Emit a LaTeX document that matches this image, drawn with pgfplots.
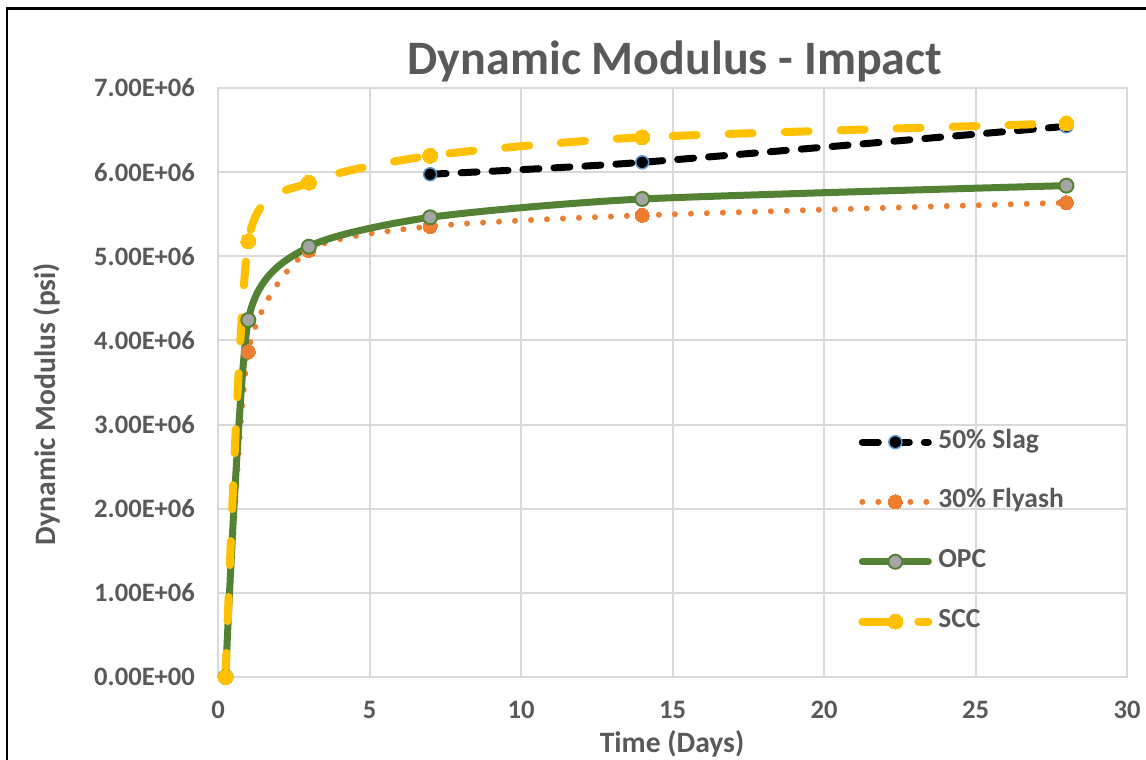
\documentclass[border=0pt]{standalone}
\usepackage{pgfplots}
\pgfplotsset{compat=1.18}
\usepackage{fontspec}
\setmainfont{Carlito}

\definecolor{txtgray}{HTML}{595959}
\definecolor{gridgray}{HTML}{D9D9D9}
\definecolor{slagblue}{HTML}{5B9BD5}
\definecolor{flyorange}{HTML}{ED7D31}
\definecolor{opcgreen}{HTML}{548235}
\definecolor{opcgray}{HTML}{A5A5A5}
\definecolor{sccyellow}{HTML}{FFC000}

\begin{document}
\begin{tikzpicture}[x=1pt,y=1pt]
\path[use as bounding box] (0,0) rectangle (573,380);
% chart frame
\draw[line width=1.3pt] (3.5,0) -- (3.5,375.6) -- (573,375.6);

\begin{axis}[
  at={(109pt,41.5pt)}, anchor=south west,
  scale only axis, width=454.5pt, height=294.5pt,
  xmin=0, xmax=30, ymin=0, ymax=7000000,
  xtick={0,5,10,15,20,25,30},
  ytick={0,1000000,2000000,3000000,4000000,5000000,6000000,7000000},
  yticklabels={0.00E+00,1.00E+06,2.00E+06,3.00E+06,4.00E+06,5.00E+06,6.00E+06,7.00E+06},
  scaled y ticks=false,
  /pgf/number format/assume math mode=true,
  grid=major,
  major grid style={gridgray, line width=1pt},
  axis line style={gridgray, line width=1pt},
  tick style={draw=none},
  ticklabel style={font=\fontsize{13.3}{16}\selectfont\bfseries, text=txtgray},
  xticklabel style={yshift=-8.6pt},
  yticklabel style={xshift=-8pt},
  every axis plot/.append style={smooth, tension=0.4},
  legend image code/.code={
    \draw[mark repeat=2,mark phase=2,#1] plot coordinates {(0pt,0pt) (16.5pt,0pt) (33pt,0pt)};
  },
  legend style={draw=none, fill=none, at={(axis description cs:0.704,0.4215)}, anchor=north west,
    inner sep=0pt, row sep=16.9pt, column sep=3pt,
    font=\fontsize{13.75}{16}\selectfont\bfseries, text=txtgray,
    nodes={inner sep=0pt, text height=9.5pt, text depth=3.5pt}},
  legend cell align=left,
]
% 50% Slag
\addplot[black, line width=3.5pt, line cap=round, dash pattern=on 8pt off 7.5pt,
  mark=*, mark size=3.25pt, mark options={solid, fill=black, draw=slagblue, line width=0.75pt}]
  coordinates {(7,5975000) (14,6117000) (28,6545000)};
\addlegendentry{50\% Slag}
% 30% Flyash
\addplot[flyorange, line width=3pt, line cap=round, dash pattern=on 0pt off 8pt,
  mark=*, mark size=3.5pt, mark options={solid, fill=flyorange, draw=flyorange, line width=0pt}]
  coordinates {(0.25,0) (1,3866000) (3,5070000) (7,5355000) (14,5487000) (28,5637000)};
\addlegendentry{30\% Flyash}
% OPC
\addplot[opcgreen, line width=3.5pt, line cap=round,
  mark=*, mark size=3.5pt, mark options={solid, fill=opcgray, draw=opcgreen, line width=1pt}]
  coordinates {(0.25,0) (1,4243000) (3,5114000) (7,5463000) (14,5681000) (28,5840000)};
\addlegendentry{OPC}
% SCC
\addplot[sccyellow, line width=4pt, line cap=round, dash pattern=on 12pt off 16pt,
  mark=*, mark size=3.75pt, mark options={solid, fill=sccyellow, draw=sccyellow, line width=0pt}]
  coordinates {(0.25,0) (1,5180000) (3,5875000) (7,6195000) (14,6414000) (28,6580000)};
\addlegendentry{SCC}
\end{axis}

\node[anchor=base, font=\fontsize{24}{28}\selectfont\bfseries, text=txtgray] at (337.5,342.5) {Dynamic Modulus - Impact};
\node[anchor=base, font=\fontsize{14.8}{17}\selectfont\bfseries, text=txtgray] at (336,3.8) {Time (Days)};
\node[rotate=90, anchor=center, font=\fontsize{14.8}{17}\selectfont\bfseries, text=txtgray] at (23.5,178) {Dynamic Modulus (psi)};
\end{tikzpicture}
\end{document}
